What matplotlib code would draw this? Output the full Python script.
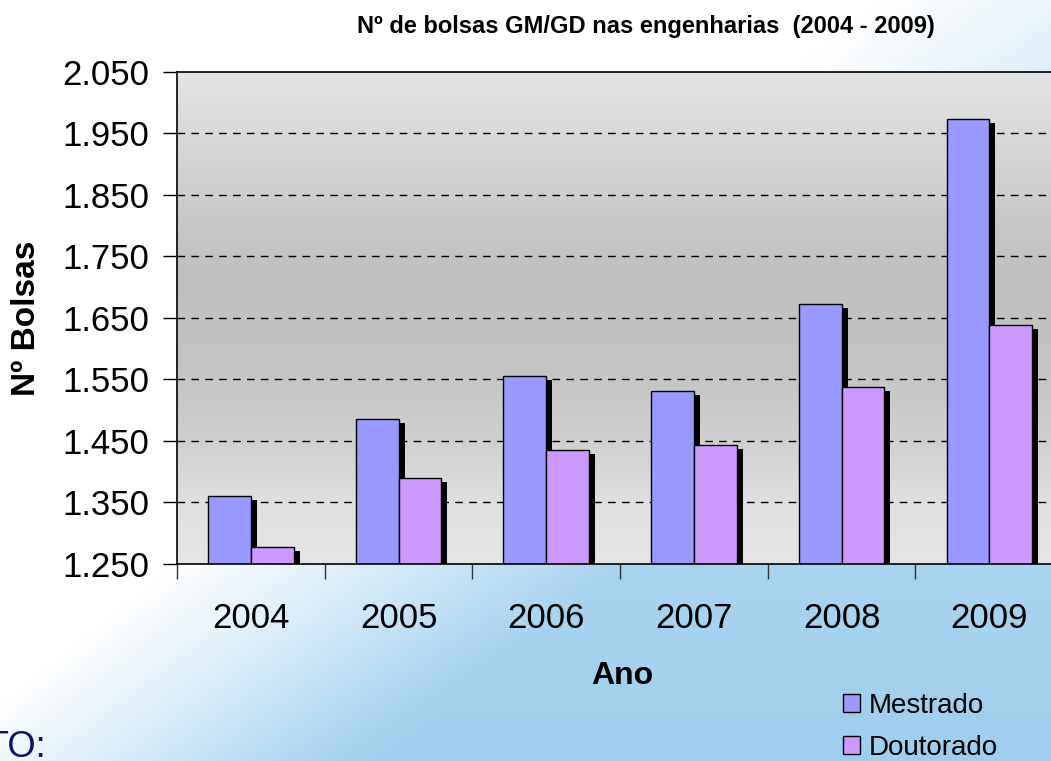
import numpy as np
import matplotlib
matplotlib.use("Agg")
import matplotlib.pyplot as plt
from matplotlib.patches import Rectangle

plt.rcParams['font.family'] = ['Liberation Sans', 'DejaVu Sans']

# ---- data ----
anos = ["2004", "2005", "2006", "2007", "2008", "2009"]
mestrado = [1.361, 1.486, 1.556, 1.531, 1.672, 1.974]
doutorado = [1.277, 1.390, 1.435, 1.444, 1.537, 1.639]
yticks = [1.250, 1.350, 1.450, 1.550, 1.650, 1.750, 1.850, 1.950, 2.050]
ytick_labels = ["1.250", "1.350", "1.450", "1.550", "1.650", "1.750", "1.850", "1.950", "2.050"]
titulo = "Nº de bolsas GM/GD nas engenharias  (2004 - 2009)"
series_names = ["Mestrado", "Doutorado"]
colors = ["#9999FF", "#CC99FF"]

W, H = 1051, 761
fig = plt.figure(figsize=(W / 100, H / 100), dpi=100)

# ---- slide background gradient ----
bg = fig.add_axes([0, 0, 1, 1], zorder=-10)
yy, xx = np.mgrid[0:H, 0:W]
a = 880 - (yy / H) * 950
t = np.clip((xx - a) / 450.0, 0, 1)
t = t * (0.55 + 0.45 * (yy / H))
t = np.clip(t, 0, 1)
white = np.array([1.0, 1.0, 1.0])
blue = np.array([0.62, 0.81, 0.93])
img = white[None, None, :] * (1 - t[..., None]) + blue[None, None, :] * t[..., None]
bg.imshow(img, aspect='auto', extent=[0, 1, 0, 1], origin='upper')
bg.set_axis_off()

# ---- main axes ----
left_px, top_px, bottom_px = 177, 72, 564
cat_px = 147.7
ax = fig.add_axes([left_px / W, (H - bottom_px) / H,
                   6 * cat_px / W, (bottom_px - top_px) / H])
ax.set_xlim(0, 6)
ax.set_ylim(1.25, 2.05)

# plot area gray gradient
stops_f = [0.0, 0.40, 0.60, 0.75, 0.88, 1.0]
stops_v = [228, 192, 196, 208, 224, 229]
fr = np.linspace(0, 1, 400)
vals = np.interp(fr, stops_f, stops_v) / 255.0
grad = np.repeat(vals[:, None], 2, axis=1)
ax.imshow(np.dstack([grad, grad, grad]), aspect='auto', extent=[0, 6, 1.25, 2.05],
          origin='upper', zorder=0)

# grid
for v in yticks[1:-1]:
    ax.axhline(v, color='black', lw=1.0, ls=(0, (5.5, 4.5)), zorder=1)

x = np.arange(len(anos)) + 0.5
bw = 0.29
px_x = 6.0 / (6 * cat_px)
px_y = 0.8 / (bottom_px - top_px)
sx, sy = 6 * px_x, 4 * px_y

for i, (vals_s, col) in enumerate(zip([mestrado, doutorado], colors)):
    xs = x - bw + i * bw
    ax.bar(xs + sx, np.array(vals_s) - sy, width=bw, align='edge', color='black',
           edgecolor='none', zorder=2)
    ax.bar(xs, vals_s, width=bw, align='edge', color=col, edgecolor='black',
           linewidth=1.0, zorder=3)

ax.set_yticks(yticks)
ax.set_yticklabels(ytick_labels, fontsize=25)
ax.tick_params(axis='y', direction='out', length=10, width=1, pad=10)

ax.set_xticks(x)
ax.set_xticklabels(anos, fontsize=25)
ax.set_xticks(np.arange(0, 7), minor=True)
ax.tick_params(axis='x', which='major', length=0, pad=27)
ax.tick_params(axis='x', which='minor', direction='out', length=11, width=1, color='#333333')

for s in ax.spines.values():
    s.set_linewidth(1.2)
    s.set_zorder(5)

# titles
fig.text(646 / W, (H - 26) / H, titulo, fontsize=17, fontweight='bold',
         ha='center', va='center')
fig.text(27 / W, (H - 318) / H, "Nº Bolsas", fontsize=24, fontweight='bold',
         rotation=90, ha='center', va='center')
fig.text(622 / W, (H - 676) / H, "Ano", fontsize=23, fontweight='bold',
         ha='center', va='center')

# legend
handles = [Rectangle((0, 0), 1, 1, facecolor=c, edgecolor='black', lw=1.0) for c in colors]
fig.legend(handles, series_names, loc='upper left',
           bbox_to_anchor=(843 / W, (H - 693) / H), frameon=False, fontsize=20,
           handlelength=0.62, handleheight=0.62, handletextpad=0.3,
           labelspacing=0.58, borderaxespad=0, borderpad=0)

# cut-off slide text
fig.text(46 / W, (H - 757) / H, "TO:", fontsize=26, color='#10106e',
         ha='right', va='baseline')

fig.savefig("out.png", dpi=100)
